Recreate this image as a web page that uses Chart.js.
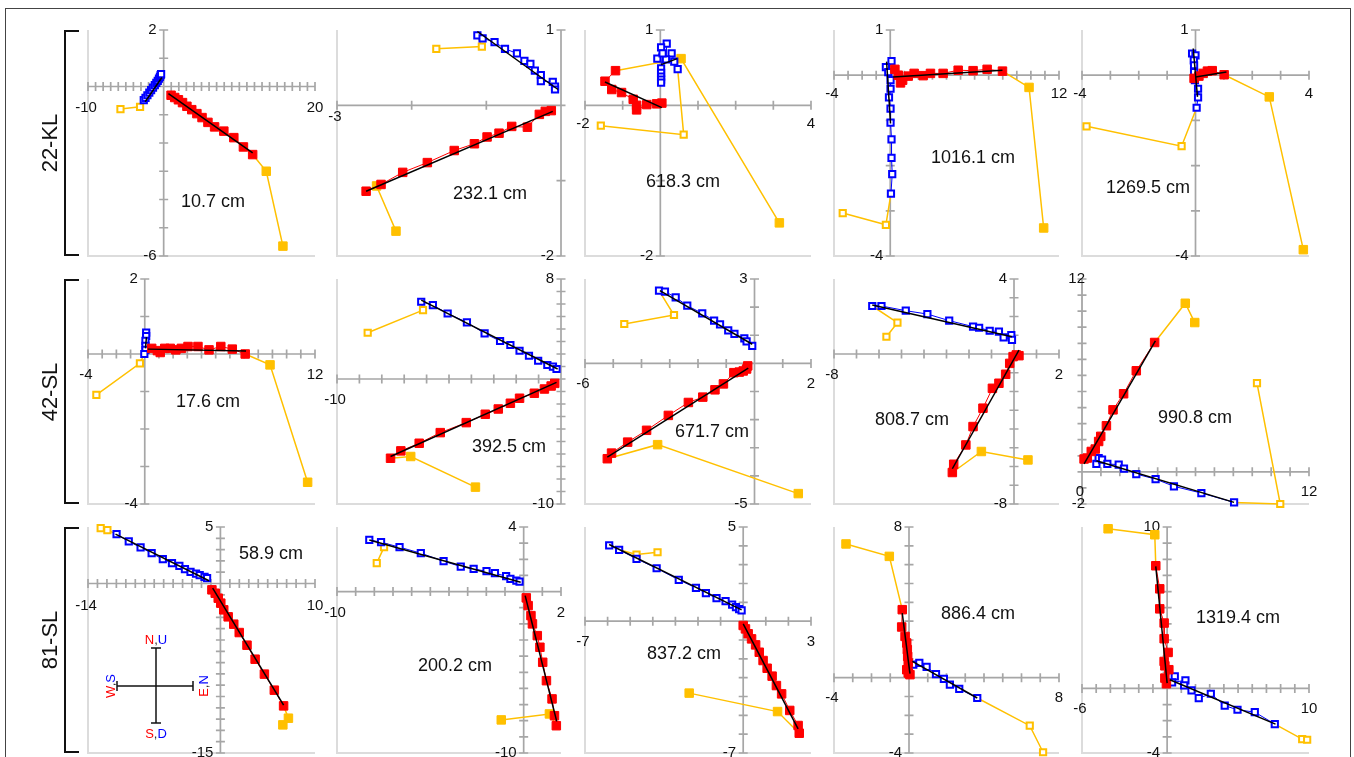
<!DOCTYPE html>
<html>
<head>
<meta charset="utf-8">
<script src="https://cdn.jsdelivr.net/npm/chart.js@4.4.1/dist/chart.umd.min.js"></script>
<style>
  body { margin: 0; background: #fff; font-family: "Liberation Sans", Arial, sans-serif; }
  #page { position: relative; width: 1354px; height: 757px; overflow: hidden; }
  #page canvas { position: absolute; }
  .frame { position: absolute; left: 5px; top: 8px; width: 1346px; height: 800px; border: 1.5px solid #444; box-sizing: border-box; }
  .rowlab { position: absolute; font-size: 22px; color: #111; white-space: nowrap; transform: translate(-50%, -50%) rotate(-90deg); }
  .brk { position: absolute; left: 64px; width: 15px; border: 2px solid #111; border-right: none; box-sizing: border-box; }
  svg { position: absolute; left: 0; top: 0; pointer-events: none; }
</style>
</head>
<body>
<div id="page">
  <div class="frame"></div>
</div>
<script>
// ── chart values ──────────────────────────────────────────────────────────
const tags = ["10.7 cm","232.1 cm","618.3 cm","1016.1 cm","1269.5 cm",
              "17.6 cm","392.5 cm","671.7 cm","808.7 cm","990.8 cm",
              "58.9 cm","200.2 cm","837.2 cm","886.4 cm","1319.4 cm"];
const rowNames = ["22-KL", "42-SL", "81-SL"];
const xLim = [[-10,20],[-3,0],[-2,4],[-4,12],[-4,4],
              [-4,12],[-10,0],[-6,2],[-8,2],[0,12],
              [-14,10],[-10,2],[-7,3],[-4,8],[-6,10]];
const yLim = [[-6,2],[-2,1],[-2,1],[-4,1],[-4,1],
              [-4,2],[-10,8],[-5,3],[-8,4],[-2,12],
              [-15,5],[-10,4],[-7,5],[-4,8],[-4,10]];

// 10.7 cm
const red107  = [[0.98,-0.31],[1.46,-0.39],[1.95,-0.47],[2.49,-0.57],[3.07,-0.70],[3.71,-0.82],[4.39,-0.96],[5.07,-1.10],[5.85,-1.27],[6.73,-1.43],[7.95,-1.58],[9.27,-1.81],[10.54,-2.14],[11.76,-2.41]];
const blue107 = [[-2.63,-0.48],[-2.40,-0.40],[-2.15,-0.31],[-1.90,-0.22],[-1.66,-0.13],[-1.41,-0.04],[-1.17,0.05],[-0.97,0.13],[-0.78,0.20],[-0.62,0.28],[-0.49,0.34],[-0.40,0.40],[-0.34,0.44]];
const yelF107 = [[13.56,-3.00],[15.76,-5.65]];
const yelO107 = [[-3.12,-0.72],[-5.71,-0.80]];
const fitR107 = [[0.63,-0.25],[11.76,-2.35]];
const fitB107 = [[-2.44,-0.54],[-0.24,0.32]];
// 232.1 cm
const red2321  = [[-2.61,-1.14],[-2.41,-1.05],[-2.12,-0.89],[-1.79,-0.76],[-1.43,-0.60],[-1.16,-0.51],[-0.99,-0.42],[-0.83,-0.37],[-0.66,-0.28],[-0.45,-0.29],[-0.29,-0.12],[-0.21,-0.08],[-0.13,-0.07]];
const blue2321 = [[-1.12,0.93],[-1.05,0.89],[-0.89,0.84],[-0.75,0.75],[-0.59,0.69],[-0.49,0.59],[-0.41,0.55],[-0.35,0.46],[-0.27,0.40],[-0.27,0.32],[-0.11,0.31],[-0.08,0.25],[-0.08,0.21]];
const yelF2321 = [[-2.47,-1.07],[-2.21,-1.67]];
const yelO2321 = [[-1.06,0.78],[-1.67,0.75]];
const fitR2321 = [[-2.61,-1.14],[-0.11,-0.08]];
const fitB2321 = [[-1.12,0.98],[-0.04,0.21]];
// 618.3 cm
const red6183  = [[-1.19,0.46],[-1.47,0.32],[-1.29,0.21],[-1.03,0.17],[-0.72,0.08],[-0.63,0.00],[-0.63,-0.06],[-0.36,0.01],[-0.10,0.02],[0.04,0.03]];
const blue6183 = [[0.46,0.48],[0.37,0.58],[0.30,0.69],[0.15,0.61],[0.17,0.82],[0.02,0.77],[-0.08,0.62],[0.06,0.69],[0.02,0.49],[0.02,0.43],[0.02,0.38],[0.02,0.34],[0.02,0.30]];
const yelF6183 = [[0.55,0.62],[3.16,-1.56]];
const yelO6183 = [[0.62,-0.39],[-1.58,-0.27]];
const fitR6183 = [[-1.47,0.31],[0.04,-0.03]];
const fitB6183 = [[0.02,0.54],[0.45,0.62]];
// 1016.1 cm
const red10161  = [[0.33,0.13],[0.57,0.00],[0.73,-0.17],[0.88,-0.11],[1.28,-0.02],[1.70,0.04],[2.34,-0.01],[2.86,0.04],[3.76,0.04],[4.83,0.11],[5.89,0.10],[6.89,0.13],[7.98,0.09]];
const blue10161 = [[0.09,0.31],[-0.31,0.18],[-0.14,0.07],[0.02,-0.11],[0.02,-0.30],[-0.09,-0.49],[0.02,-0.74],[0.02,-1.05],[0.09,-1.42],[0.09,-1.83],[0.14,-2.19],[0.05,-2.62]];
const yelF10161 = [[9.87,-0.27],[10.91,-3.38]];
const yelO10161 = [[-0.31,-3.31],[-3.38,-3.05]];
const fitR10161 = [[0.21,-0.04],[7.98,0.11]];
const fitB10161 = [[-0.26,0.30],[0.02,-1.07]];
// 1269.5 cm
const red12695  = [[-0.05,-0.07],[0.12,-0.02],[0.27,0.04],[0.42,0.09],[0.59,0.10],[1.01,0.01]];
const blue12695 = [[-0.12,0.48],[0.00,0.44],[-0.06,0.33],[-0.05,0.22],[-0.05,0.07],[-0.02,-0.11],[0.09,-0.30],[0.09,-0.49],[0.04,-0.72]];
const yelF12695 = [[2.60,-0.48],[3.80,-3.86]];
const yelO12695 = [[-0.49,-1.57],[-3.84,-1.13]];
const fitR12695 = [[0.00,-0.04],[1.09,0.07]];
const fitB12695 = [[-0.08,0.59],[0.07,-0.48]];
// 17.6 cm
const red176  = [[0.49,0.15],[0.89,0.09],[1.09,0.04],[1.41,0.15],[1.80,0.15],[2.19,0.11],[2.58,0.15],[3.05,0.20],[3.75,0.20],[4.53,0.11],[5.36,0.20],[6.17,0.13],[7.08,0.00]];
const blue176 = [[0.10,0.57],[0.10,0.48],[0.05,0.35],[0.05,0.22],[0.05,0.11],[-0.03,0.00]];
const yelF176 = [[8.83,-0.29],[11.48,-3.42]];
const yelO176 = [[-0.34,-0.25],[-3.41,-1.09]];
const fitR176 = [[0.23,0.13],[7.14,0.08]];
const fitB176 = [[0.12,0.45],[0.05,0.15]];
// 392.5 cm
const red3925  = [[-7.61,-6.34],[-7.15,-5.75],[-6.33,-5.14],[-5.39,-4.29],[-4.23,-3.49],[-3.38,-2.82],[-2.80,-2.40],[-2.26,-1.94],[-1.85,-1.54],[-1.19,-1.14],[-0.74,-0.80],[-0.44,-0.56],[-0.28,-0.35]];
const blue3925 = [[-6.24,6.18],[-5.72,5.91],[-5.06,5.24],[-4.20,4.53],[-3.41,3.65],[-2.72,3.04],[-2.26,2.72],[-1.85,2.26],[-1.43,1.86],[-1.02,1.46],[-0.61,1.12],[-0.36,0.99],[-0.20,0.80]];
const yelF3925 = [[-6.71,-6.20],[-3.82,-8.65]];
const yelO3925 = [[-6.16,5.51],[-8.63,3.70]];
const fitR3925 = [[-7.61,-6.20],[-0.20,-0.27]];
const fitB3925 = [[-6.24,6.31],[-0.15,0.80]];
// 671.7 cm
const red6717  = [[-5.21,-3.39],[-5.06,-3.19],[-4.49,-2.80],[-3.82,-2.38],[-3.05,-1.85],[-2.34,-1.39],[-1.83,-1.20],[-1.40,-0.94],[-1.10,-0.73],[-0.73,-0.33],[-0.54,-0.31],[-0.40,-0.27],[-0.28,-0.20],[-0.24,-0.09]];
const blue6717 = [[-3.38,2.59],[-3.17,2.55],[-2.79,2.35],[-2.38,2.05],[-1.85,1.78],[-1.43,1.52],[-1.22,1.39],[-0.93,1.17],[-0.71,1.05],[-0.36,0.89],[-0.28,0.78],[-0.08,0.62]];
const yelF6717 = [[-3.43,-2.89],[1.55,-4.63]];
const yelO6717 = [[-2.85,1.72],[-4.61,1.40]];
const fitR6717 = [[-5.21,-3.33],[-0.22,-0.17]];
const fitB6717 = [[-3.35,2.59],[-0.08,0.68]];
// 808.7 cm
const red8087  = [[-2.74,-6.32],[-2.68,-5.88],[-2.14,-4.85],[-1.82,-3.87],[-1.38,-2.89],[-0.96,-1.83],[-0.67,-1.56],[-0.37,-1.08],[-0.19,-0.50],[-0.04,-0.14],[0.10,-0.05],[0.22,-0.09]];
const blue8087 = [[-6.30,2.56],[-5.89,2.56],[-4.81,2.31],[-3.85,2.13],[-2.88,1.78],[-1.82,1.46],[-1.55,1.40],[-1.08,1.24],[-0.67,1.19],[-0.46,0.89],[-0.12,1.01],[-0.09,0.75]];
const yelF8087 = [[-1.45,-5.20],[0.62,-5.65]];
const yelO8087 = [[-5.18,1.67],[-5.67,0.92]];
const fitR8087 = [[-2.74,-6.12],[0.22,0.21]];
const fitB8087 = [[-6.30,2.61],[-0.09,0.92]];
// 990.8 cm
const red9908  = [[0.11,0.80],[0.28,0.86],[0.49,1.27],[0.70,1.42],[0.88,1.89],[0.99,2.21],[1.29,2.87],[1.64,3.86],[2.20,4.86],[2.87,6.29],[3.84,8.05]];
const blue9908 = [[0.76,0.49],[0.88,0.86],[1.06,0.76],[1.34,0.49],[1.94,0.45],[2.22,0.20],[2.87,-0.14],[3.89,-0.45],[4.86,-0.90],[6.31,-1.32],[8.04,-1.90]];
const yelF9908 = [[5.46,10.49],[5.96,9.29]];
const yelO9908 = [[10.48,-2.00],[9.25,5.52]];
const fitR9908 = [[0.11,0.49],[3.88,8.15]];
const fitB9908 = [[0.76,0.69],[8.04,-1.90]];
// 58.9 cm
const red589  = [[-0.90,-0.56],[-0.55,-0.86],[-0.23,-1.30],[0.04,-1.74],[0.35,-2.33],[0.82,-2.95],[1.41,-3.60],[1.99,-4.34],[2.81,-5.46],[3.67,-6.70],[4.65,-8.02],[5.70,-9.44],[6.68,-10.83]];
const blue589 = [[-10.98,4.37],[-9.69,3.72],[-8.44,3.19],[-7.27,2.68],[-6.09,2.15],[-5.12,1.80],[-4.34,1.56],[-3.75,1.27],[-3.16,1.03],[-2.58,0.88],[-2.19,0.74],[-1.68,0.59],[-1.41,0.47]];
const yelF589 = [[7.19,-11.92],[6.60,-12.51]];
const yelO589 = [[-11.95,4.72],[-12.66,4.90]];
const fitR589 = [[-0.82,-0.41],[6.68,-10.77]];
const fitB589 = [[-11.09,4.37],[-1.21,0.24]];
// 200.2 cm
const red2002  = [[0.14,-0.39],[0.24,-0.87],[0.39,-1.49],[0.47,-2.00],[0.73,-2.73],[0.87,-3.45],[1.02,-4.38],[1.22,-5.52],[1.52,-6.65],[1.65,-7.69],[1.75,-8.31]];
const blue2002 = [[-8.27,3.20],[-7.64,3.06],[-6.65,2.75],[-5.51,2.38],[-4.29,1.88],[-3.37,1.55],[-2.68,1.40],[-1.99,1.26],[-1.54,1.14],[-0.94,0.95],[-0.71,0.79],[-0.39,0.68],[-0.22,0.62]];
const yelF2002 = [[1.38,-7.58],[-1.20,-7.95]];
const yelO2002 = [[-7.48,2.75],[-7.87,1.76]];
const fitR2002 = [[0.08,-0.25],[1.77,-8.04]];
const fitB2002 = [[-8.27,3.20],[-0.16,0.58]];
// 837.2 cm
const red8372  = [[0.00,-0.23],[0.10,-0.41],[0.22,-0.67],[0.37,-0.94],[0.55,-1.26],[0.71,-1.65],[0.88,-2.09],[1.06,-2.50],[1.28,-2.92],[1.47,-3.42],[1.70,-3.86],[2.06,-4.74],[2.43,-5.54],[2.48,-5.95]];
const blue8372 = [[-5.93,4.02],[-5.49,3.79],[-4.72,3.31],[-3.83,2.81],[-2.85,2.19],[-2.09,1.77],[-1.65,1.49],[-1.18,1.22],[-0.78,1.06],[-0.49,0.88],[-0.32,0.74],[-0.18,0.64],[-0.07,0.57]];
const yelF8372 = [[1.52,-4.80],[-2.39,-3.82]];
const yelO8372 = [[-4.72,3.54],[-3.79,3.66]];
const fitR8372 = [[0.00,-0.14],[2.43,-5.72]];
const fitB8372 = [[-5.93,4.07],[-0.07,0.60]];
// 886.4 cm
const red8864  = [[-0.36,3.61],[-0.39,2.69],[-0.21,2.19],[-0.12,1.84],[-0.09,1.49],[-0.07,1.13],[-0.04,0.78],[-0.12,0.42],[-0.04,0.25],[0.05,0.16]];
const blue8864 = [[0.23,0.69],[0.55,0.78],[0.94,0.57],[1.44,0.19],[1.86,-0.07],[2.18,-0.37],[2.68,-0.60],[3.64,-1.08]];
const yelF8864 = [[-1.05,6.44],[-3.36,7.10]];
const yelO8864 = [[6.44,-2.55],[7.15,-3.96]];
const fitR8864 = [[-0.36,3.43],[0.05,0.21]];
const fitB8864 = [[0.18,0.87],[3.64,-1.08]];
// 1319.4 cm
const red13194  = [[-0.80,7.60],[-0.52,6.17],[-0.52,4.93],[-0.21,4.05],[-0.21,3.08],[0.07,2.23],[-0.21,1.67],[-0.16,1.40],[0.12,1.16],[-0.16,0.64],[-0.05,0.29]];
const blue13194 = [[0.54,0.74],[0.35,0.37],[1.29,0.50],[1.20,0.19],[1.72,-0.12],[2.23,-0.60],[3.08,-0.33],[4.06,-1.07],[4.96,-1.32],[6.18,-1.47],[7.59,-2.21]];
const yelF13194 = [[-0.87,9.52],[-4.16,9.89]];
const yelO13194 = [[9.52,-3.14],[9.87,-3.18]];
const fitR13194 = [[-0.80,7.56],[0.00,0.33]];
const fitB13194 = [[0.19,0.54],[7.64,-2.21]];

// which red / blue step the excluded (yellow) steps hang from; -1 = last
const redAnchor  = [-1,0,0,-1,-1, -1,0,0,0,-1, -1,-1,-1,0,0];
const blueAnchor = [0,0,0,-1,-1, -1,0,0,0,-1, 0,1,1,-1,-1];

// ── layout ────────────────────────────────────────────────────────────────
const colL = [88, 337, 585, 834, 1082], colR = [315, 561, 811, 1059, 1309];
const rowT = [30, 279, 527], rowB = [256, 504, 753];
const yLabDx = [-7,-7,-7,-7,-7, -7,-7,-7,-7,3, -7,-7,-7,-7,-7];
const xLabDy = [21,12,19,19,19, 21,21,20,21,20, 22,21,21,20,20];
const tagAt = [[125,172],[153,164],[98,152],[139,128],[66,158],
               [120,123],[172,168],[127,153],[78,141],[113,139],
               [183,27],[118,139],[99,127],[144,87],[156,91]];
const MX = 40, MY = 22;
const FONT = '"Liberation Sans", Arial, sans-serif';

const panels = [
  [red107, blue107, yelF107, yelO107, fitR107, fitB107],
  [red2321, blue2321, yelF2321, yelO2321, fitR2321, fitB2321],
  [red6183, blue6183, yelF6183, yelO6183, fitR6183, fitB6183],
  [red10161, blue10161, yelF10161, yelO10161, fitR10161, fitB10161],
  [red12695, blue12695, yelF12695, yelO12695, fitR12695, fitB12695],
  [red176, blue176, yelF176, yelO176, fitR176, fitB176],
  [red3925, blue3925, yelF3925, yelO3925, fitR3925, fitB3925],
  [red6717, blue6717, yelF6717, yelO6717, fitR6717, fitB6717],
  [red8087, blue8087, yelF8087, yelO8087, fitR8087, fitB8087],
  [red9908, blue9908, yelF9908, yelO9908, fitR9908, fitB9908],
  [red589, blue589, yelF589, yelO589, fitR589, fitB589],
  [red2002, blue2002, yelF2002, yelO2002, fitR2002, fitB2002],
  [red8372, blue8372, yelF8372, yelO8372, fitR8372, fitB8372],
  [red8864, blue8864, yelF8864, yelO8864, fitR8864, fitB8864],
  [red13194, blue13194, yelF13194, yelO13194, fitR13194, fitB13194]
];

// ── axes through the origin, end labels, depth tag ───────────────────────
const zijAxes = {
  id: "zijAxes",
  beforeDatasetsDraw(chart) {
    const o = chart.options.plugins.zijAxes;
    const { ctx, chartArea: a } = chart;
    const sx = chart.scales.x, sy = chart.scales.y;
    const x0 = sx.getPixelForValue(0), y0 = sy.getPixelForValue(0);
    ctx.save();
    ctx.lineWidth = 2; ctx.strokeStyle = "#dcdcdc";
    ctx.beginPath();
    ctx.moveTo(a.left, a.top); ctx.lineTo(a.left, a.bottom); ctx.lineTo(a.right, a.bottom);
    ctx.stroke();
    ctx.lineWidth = 1.7; ctx.strokeStyle = "#a6a6a6";
    ctx.beginPath();
    ctx.moveTo(a.left, y0); ctx.lineTo(a.right, y0);
    ctx.moveTo(x0, a.top); ctx.lineTo(x0, a.bottom);
    for (let v = sx.min; v <= sx.max; v++) { const p = sx.getPixelForValue(v); ctx.moveTo(p, y0 - 4.5); ctx.lineTo(p, y0 + 4.5); }
    for (let v = sy.min; v <= sy.max; v++) { const p = sy.getPixelForValue(v); ctx.moveTo(x0 - 4.5, p); ctx.lineTo(x0 + 4.5, p); }
    ctx.stroke();

    ctx.fillStyle = "#111"; ctx.font = "15px " + FONT; ctx.textBaseline = "middle";
    ctx.textAlign = "right";
    ctx.fillText(String(sy.max), x0 + o.yDx, a.top);
    ctx.fillText(String(sy.min), x0 + o.yDx, a.bottom);
    ctx.textAlign = "center";
    ctx.fillText(String(sx.min), a.left - 2, y0 + o.xDy);
    if (sx.max !== 0) ctx.fillText(String(sx.max), a.right, y0 + o.xDy);
    ctx.font = "18px " + FONT;
    ctx.fillText(o.tag, a.left + o.at[0], a.top + o.at[1]);
    ctx.restore();
  }
};

const pts = arr => arr.map(([x, y]) => ({ x, y }));
const pick = (arr, i) => arr[i < 0 ? arr.length - 1 : i];

function stepSet(data, color, open, order) {
  return {
    data: pts(data), showLine: true, borderColor: color, borderWidth: 1,
    pointStyle: "rect", pointRadius: open ? 4.4 : 6,
    pointBackgroundColor: open ? "#fff" : color, pointBorderColor: color,
    pointBorderWidth: open ? 2 : 1, order, clip: false
  };
}
function yellowSet(anchor, data, open) {
  const d = pts([anchor].concat(data));
  return {
    data: d, showLine: true, borderColor: "#ffc000", borderWidth: 1.5,
    pointStyle: "rect", pointRadius: d.map((p, i) => i === 0 ? 0 : (open ? 4.4 : 6)),
    pointBackgroundColor: open ? "#fff" : "#ffc000", pointBorderColor: "#ffc000",
    pointBorderWidth: open ? 2 : 1, order: 2, clip: false
  };
}
function fitSet(data) {
  return { data: pts(data), showLine: true, borderColor: "#000", borderWidth: 1.5,
           pointRadius: 0, order: 0, clip: false };
}

const page = document.getElementById("page");

panels.forEach(([red, blue, yelF, yelO, fitR, fitB], i) => {
  const r = Math.floor(i / 5), c = i % 5;
  const w = colR[c] - colL[c] + 2 * MX, h = rowB[r] - rowT[r] + 2 * MY;
  const cv = document.createElement("canvas");
  cv.width = w; cv.height = h;
  cv.style.left = (colL[c] - MX) + "px"; cv.style.top = (rowT[r] - MY) + "px";
  cv.style.width = w + "px"; cv.style.height = h + "px";
  page.appendChild(cv);

  new Chart(cv.getContext("2d"), {
    type: "scatter",
    data: { datasets: [
      yellowSet(pick(red, redAnchor[i]), yelF, false),
      yellowSet(pick(blue, blueAnchor[i]), yelO, true),
      stepSet(red, "#ff0000", false, 1),
      stepSet(blue, "#0000ff", true, 1),
      fitSet(fitR),
      fitSet(fitB)
    ]},
    options: {
      responsive: false, animation: false, devicePixelRatio: 1, events: [],
      layout: { padding: { left: MX, right: MX, top: MY, bottom: MY } },
      scales: {
        x: { type: "linear", min: xLim[i][0], max: xLim[i][1], display: false },
        y: { type: "linear", min: yLim[i][0], max: yLim[i][1], display: false }
      },
      plugins: {
        legend: { display: false }, tooltip: { enabled: false },
        zijAxes: { yDx: yLabDx[i], xDy: xLabDy[i], tag: tags[i], at: tagAt[i] }
      }
    },
    plugins: [zijAxes]
  });
});

// row names and brackets
rowNames.forEach((name, r) => {
  const b = document.createElement("div");
  b.className = "brk";
  b.style.top = rowT[r] + "px"; b.style.height = (rowB[r] - rowT[r]) + "px";
  page.appendChild(b);
  const t = document.createElement("div");
  t.className = "rowlab"; t.textContent = name;
  t.style.left = "50px"; t.style.top = ((rowT[r] + rowB[r]) / 2) + "px";
  page.appendChild(t);
});

// orientation key (N,U / S,D / W,S / E,N)
page.insertAdjacentHTML("beforeend", `
<svg width="1354" height="757" font-family='${FONT}' font-size="13">
  <g stroke="#111" stroke-width="1.5" fill="none">
    <line x1="117" y1="686" x2="193" y2="686"/>
    <line x1="117" y1="681" x2="117" y2="691"/>
    <line x1="193" y1="681" x2="193" y2="691"/>
    <line x1="156" y1="648" x2="156" y2="723"/>
    <line x1="151" y1="648" x2="161" y2="648"/>
    <line x1="151" y1="723" x2="161" y2="723"/>
  </g>
  <text x="156" y="644" text-anchor="middle"><tspan fill="#ff0000">N</tspan><tspan fill="#333">,</tspan><tspan fill="#0000ff">U</tspan></text>
  <text x="156" y="738" text-anchor="middle"><tspan fill="#ff0000">S</tspan><tspan fill="#333">,</tspan><tspan fill="#0000ff">D</tspan></text>
  <text transform="translate(115,686) rotate(-90)" text-anchor="middle"><tspan fill="#ff0000">W</tspan><tspan fill="#333">,</tspan><tspan fill="#0000ff">S</tspan></text>
  <text transform="translate(208,686) rotate(-90)" text-anchor="middle"><tspan fill="#ff0000">E</tspan><tspan fill="#333">,</tspan><tspan fill="#0000ff">N</tspan></text>
</svg>`);
</script>
</body>
</html>
